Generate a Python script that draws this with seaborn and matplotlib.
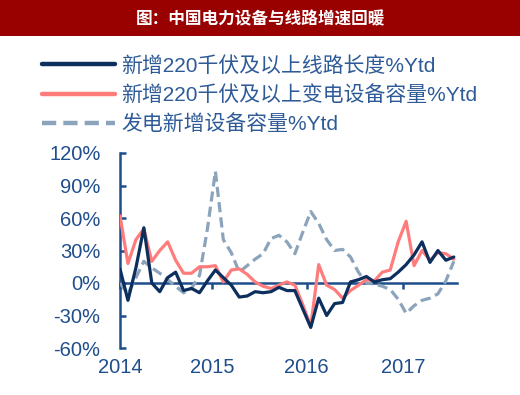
import numpy as np
import pandas as pd
import seaborn as sns
import matplotlib.pyplot as plt
from matplotlib.patches import Rectangle

# monthly YTD growth, % (Jan 2014 .. Jul 2017)
line_len = [13, -16, 14, 51, 0, -8, 5, 10, -7, -5, -9, 2, 12, 5, -2, -13, -12, -8, -9, -8,
            -4, -7, -7, -24, -41, -14, -30, -19, -18, 1, 3, 6, 1, 3, 4, 10, 17, 26, 38, 19,
            30, 21, 24]
transformer = [62, 18, 40, 50, 20, 30, 38, 21, 9, 9, 15, 15, 16, 1, 12, 13, 8, 1, -3, -5,
               -2, 1, -2, -20, -40, 17, -2, -6, -14, -7, -2, 3, 2, 10, 12, 38, 57, 16, 30, 21,
               28, 27, 22]
generation = [0, -10, 5, 20, 14, 9, 3, -3, -9, -5, 7, 50, 103, 40, 28, 10, 16, 22, 27, 41,
              44, 38, 27, 47, 66, 55, 40, 30, 31, 24, 10, 0, -1, -3, -6, -15, -28, -21, -16, -14,
              -10, 2, 20]

series_names = ['新增220千伏及以上线路长度%Ytd',
                '新增220千伏及以上变电设备容量%Ytd',
                '发电新增设备容量%Ytd']
year_labels = ['2014', '2015', '2016', '2017']
year_pos = [0, 11.6, 23.5, 35.6]
y_ticks = [-60, -30, 0, 30, 60, 90, 120]
y_labels = [f'{v}%' for v in y_ticks]

title = '图：中国电力设备与线路增速回暖'

navy = '#0d2f5e'
pink = '#ff7c7c'
grey = '#8ca3bc'
axis_blue = '#1f4e8c'
text_blue = '#2e5b97'

months = np.arange(len(line_len))
df = pd.concat([
    pd.DataFrame({'month': months, 'value': line_len, 'series': series_names[0]}),
    pd.DataFrame({'month': months, 'value': transformer, 'series': series_names[1]}),
    pd.DataFrame({'month': months, 'value': generation, 'series': series_names[2]}),
])

sns.set_style('white')
plt.rcParams['font.family'] = ['Liberation Sans', 'Noto Sans CJK SC', 'DejaVu Sans']

fig = plt.figure(figsize=(5.2, 3.95), dpi=100)
ax = fig.add_axes([120 / 520, 1 - 348 / 395, 337 / 520, 195 / 395])

sns.lineplot(data=df, x='month', y='value', hue='series', style='series',
             palette={series_names[0]: navy, series_names[1]: pink, series_names[2]: grey},
             dashes={series_names[0]: '', series_names[1]: '', series_names[2]: (3.2, 1.6)},
             linewidth=2.3, ax=ax)
handles, labels = ax.get_legend_handles_labels()
ax.get_legend().remove()
for ln, z in zip(ax.lines[:3], [3, 2, 1]):
    ln.set_zorder(z)

ax.set_xlim(0, 42.4)
ax.set_ylim(-60, 120)
ax.set_xlabel('')
ax.set_ylabel('')

for s in ['top', 'right']:
    ax.spines[s].set_visible(False)
ax.spines['bottom'].set_position(('data', 0))
for s in ['left', 'bottom']:
    ax.spines[s].set_color(axis_blue)
    ax.spines[s].set_linewidth(1.8)
    ax.spines[s].set_zorder(0.5)

ax.set_yticks(y_ticks)
ax.set_yticklabels(y_labels)
ax.set_xticks(year_pos)
ax.set_xticklabels(year_labels)
ax.tick_params(axis='y', direction='in', length=4, width=1.8, color=axis_blue,
               labelcolor=axis_blue, labelsize=14.5, pad=14, left=True)
ax.tick_params(axis='x', direction='out', length=4, width=1.8, color=axis_blue,
               labelcolor=axis_blue, labelsize=14.5, pad=50, bottom=True)

leg = fig.legend(handles, labels, loc='upper left', bbox_to_anchor=(42 / 520, 1 - 56 / 395),
                 frameon=False, fontsize=15, handlelength=3.5, handletextpad=0.3,
                 labelspacing=0.45, borderpad=0, borderaxespad=0, labelcolor=text_blue)
for h in leg.legend_handles:
    h.set_linewidth(3.2)

# dark red title band
fig.patches.append(Rectangle((0, 1 - 36 / 395), 1, 36 / 395, transform=fig.transFigure,
                             facecolor='#990000', edgecolor='none', zorder=0))
fig.text(0.5, 1 - 19 / 395, title, color='white', fontsize=12, fontweight='bold',
         ha='center', va='center', family=['Noto Sans CJK SC', 'DejaVu Sans'])

fig.savefig('out.png', dpi=100)
